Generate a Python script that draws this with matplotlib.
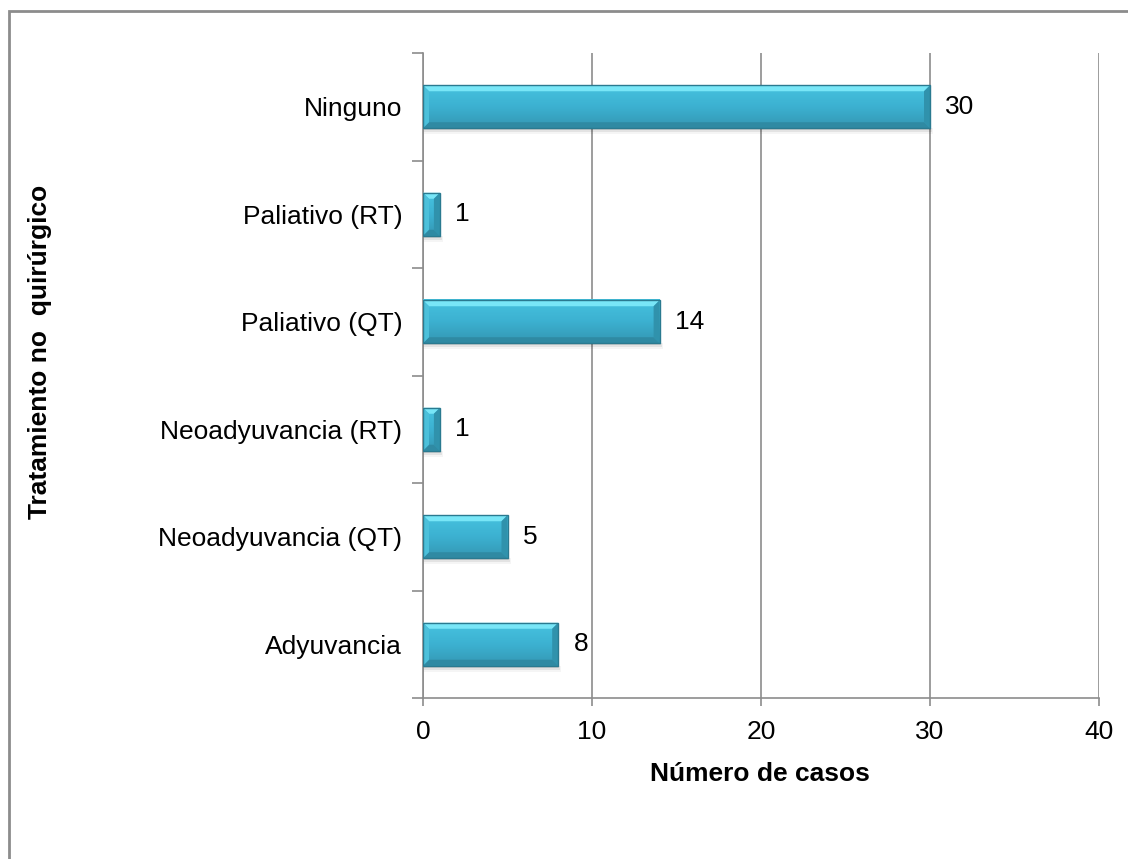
import numpy as np
import matplotlib
matplotlib.use("Agg")
import matplotlib.pyplot as plt
from matplotlib.patches import Polygon, Rectangle
from matplotlib.colors import LinearSegmentedColormap

plt.rcParams['font.family'] = ['Liberation Sans', 'DejaVu Sans']

categories = ["Adyuvancia", "Neoadyuvancia (QT)", "Neoadyuvancia (RT)",
              "Paliativo (QT)", "Paliativo (RT)", "Ninguno"]
values = [8, 5, 1, 14, 1, 30]
x_ticks = [0, 10, 20, 30, 40]

W, H = 1128, 859
FS = 19
fig = plt.figure(figsize=(W / 100, H / 100), dpi=100)
fig.patch.set_facecolor("white")

# outer frame of the chart area
fig.add_artist(Rectangle((9 / W, -0.1), 1.2, 1 - 10.5 / H + 0.1,
                         transform=fig.transFigure, fill=False,
                         edgecolor="#8c8c8c", linewidth=2, zorder=0))

left, right, top, bottom = 423, 1099, 53, 698
ax = fig.add_axes([left / W, 1 - bottom / H, (right - left) / W, (bottom - top) / H])

n = len(categories)
ax.set_xlim(0, 40)
ax.set_ylim(-0.5, n - 0.5)

# pixel-to-data conversion for bevel geometry
px_x = 40 / (right - left)
px_y = n / (bottom - top)

bar_h = 0.4
grad = LinearSegmentedColormap.from_list("bar", ["#3497b3", "#3cb1d1", "#46c2df"])
bev = 6

for i, v in enumerate(values):
    y0, y1 = i - bar_h / 2, i + bar_h / 2
    bx = min(bev * px_x, v / 2 * 0.9)
    by = bev * px_y
    # soft drop shadow
    for k, a in enumerate([0.10, 0.07, 0.04]):
        ax.add_patch(Rectangle((0, y0 - (k + 1) * 2 * px_y), v + (k + 1) * px_x, (k + 1) * 2 * px_y,
                               facecolor="black", alpha=a, edgecolor="none", zorder=2))
    # vertical gradient body
    g = np.linspace(0, 1, 64).reshape(-1, 1)
    ax.imshow(g, cmap=grad, aspect="auto", extent=(0, v, y0, y1),
              origin="lower", zorder=3, interpolation="bilinear")
    # bevel facets
    facets = [
        ([(0, y1), (v, y1), (v - bx, y1 - by), (bx, y1 - by)], "#78e6f7"),
        ([(0, y0), (v, y0), (v - bx, y0 + by), (bx, y0 + by)], "#2f8aa3"),
        ([(0, y0), (0, y1), (bx, y1 - by), (bx, y0 + by)], "#4cc0da"),
        ([(v, y0), (v, y1), (v - bx, y1 - by), (v - bx, y0 + by)], "#3092ac"),
    ]
    for pts, c in facets:
        ax.add_patch(Polygon(pts, closed=True, facecolor=c, edgecolor="none", zorder=4))
    ax.add_patch(Rectangle((0, y0), v, bar_h, fill=False, edgecolor="#2a7a90",
                           linewidth=1.0, zorder=5))
    ax.text(v + 0.9, i, str(v), va="center", ha="left", fontsize=FS, color="black", zorder=6)

# axes styling
ax.set_xticks(x_ticks)
ax.set_xticklabels([str(t) for t in x_ticks], fontsize=FS)
ax.xaxis.grid(True, color="#8c8c8c", linewidth=1.2, zorder=1)
ax.set_axisbelow(True)
ax.set_yticks(np.arange(-0.5, n, 1.0))
ax.set_yticklabels([])
ax.set_yticks(np.arange(n), minor=True)
ax.set_yticklabels(categories, minor=True, fontsize=FS)
ax.tick_params(axis="y", which="major", length=8, width=1.2, color="#8c8c8c")
ax.tick_params(axis="y", which="minor", length=0, pad=15)
ax.tick_params(axis="x", length=6, width=1.2, color="#8c8c8c", pad=10)
for s in ["top", "right"]:
    ax.spines[s].set_visible(False)
for s in ["left", "bottom"]:
    ax.spines[s].set_color("#8c8c8c")
    ax.spines[s].set_linewidth(1.2)

fig.text(760 / W, 1 - 774 / H, "Número de casos", ha="center", va="center",
         fontsize=FS, fontweight="bold")
fig.text(40 / W, 1 - 352 / H, "Tratamiento no  quirúrgico", ha="center", va="center",
         rotation=90, fontsize=FS, fontweight="bold")

fig.savefig("out.png", dpi=100, facecolor="white")
